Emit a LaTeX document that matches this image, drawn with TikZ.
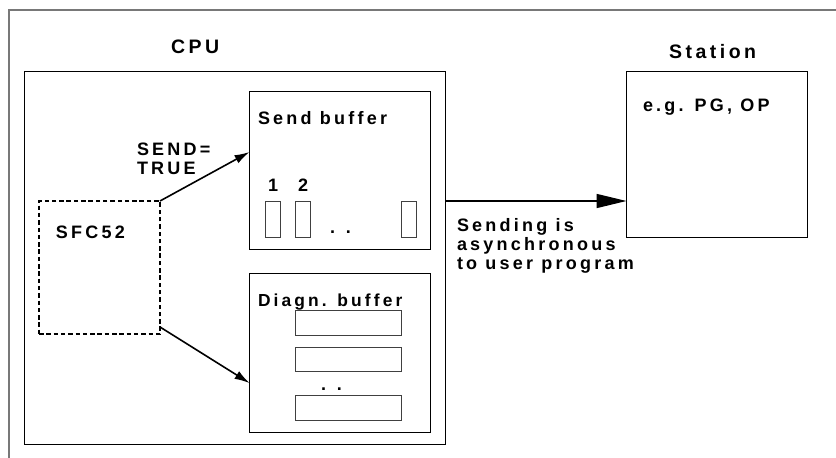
\documentclass[tikz,border=0pt]{standalone}
\usepackage{fontspec}
\setmainfont{Liberation Sans}[LetterSpace=18]
\usetikzlibrary{arrows.meta}
\definecolor{framegray}{gray}{0.47}
\tikzset{
  x=1pt,y=-1pt,
  box/.style={draw=black,line width=1pt,fill=white,inner sep=0pt,outer sep=0pt},
  thinbox/.style={draw=black!75,line width=1pt,fill=white,inner sep=0pt,outer sep=0pt},
  dashbox/.style={draw=black,line width=1.5pt,dash pattern=on 4.5pt off 2.8pt,inner sep=0pt,outer sep=0pt},
  lbl/.style={font=\fontsize{18}{19}\selectfont\bfseries,inner sep=0pt,outer sep=0pt,align=left,anchor=base west,text=black},
  titlelbl/.style={lbl,font=\fontsize{19.5}{21}\selectfont\bfseries},
  conn/.style={draw=black,line width=1.6pt,-{Latex[length=15pt,width=9pt]}},
  bigconn/.style={draw=black,line width=1.6pt,-{Triangle[length=30pt,width=14pt]}}
}
\begin{document}
\begin{tikzpicture}
\useasboundingbox (0,0) rectangle (836,458);
\draw[framegray,line width=2pt] (9,458) -- (9,10) -- (836,10);
\node[box,minimum width=421.5pt,minimum height=373pt,anchor=north west] (cpu) at (24,71) {};
\node[box,minimum width=181pt,minimum height=158pt,anchor=north west] (send) at (249.5,91) {};
\node[box,minimum width=181pt,minimum height=158.5pt,anchor=north west] (diag) at (249.5,273.5) {};
\node[box,minimum width=180.5pt,minimum height=166pt,anchor=north west] (station) at (626.5,71) {};
\node[dashbox,minimum width=121pt,minimum height=133pt,anchor=north west] (sfc) at (39,201) {};
\node[thinbox,minimum width=15pt,minimum height=36pt,anchor=north west] (s1) at (265,201) {};
\node[thinbox,minimum width=15pt,minimum height=36pt,anchor=north west] (s2) at (295,201) {};
\node[thinbox,minimum width=15pt,minimum height=36pt,anchor=north west] (s3) at (401,201) {};
\node[thinbox,minimum width=106pt,minimum height=24.5pt,anchor=north west] (d1) at (295,310.5) {};
\node[thinbox,minimum width=106pt,minimum height=24.5pt,anchor=north west] (d2) at (295,347) {};
\node[thinbox,minimum width=106pt,minimum height=24.5pt,anchor=north west] (d3) at (295,395.5) {};
\node[titlelbl] (tcpu) at (171,53) {CPU};
\node[titlelbl] (tstation) at (669,58) {Station};
\node[lbl] (tsend) at (258,124) {Send buffer};
\node[lbl,font=\fontsize{17.4}{19}\selectfont\bfseries] (tdiag) at (258,306) {Diagn. buffer};
\node[lbl] (tsfc) at (56,238) {SFC52};
\node[lbl] (ttrue) at (137,174) {SEND=\\TRUE};
\node[lbl] (t1) at (268,191) {1};
\node[lbl] (t2) at (298,191) {2};
\node[lbl] (dots1) at (330,233) {. .};
\node[lbl] (dots2) at (321,390) {. .};
\node[lbl] (teg) at (643,111) {e.g. PG, OP};
\node[lbl] (tasync) at (457,269) {Sending is\\asynchronous\\to user program};
\coordinate (a1) at (249.5,152);
\coordinate (a2) at (160,327);
\coordinate (a3) at (249.5,383);
\draw[conn] (sfc.north east) -- (a1);
\draw[conn] (a2) -- (a3);
\draw[bigconn] (cpu.east |- sfc.north) -- (station.west |- sfc.north);
\end{tikzpicture}
\end{document}
